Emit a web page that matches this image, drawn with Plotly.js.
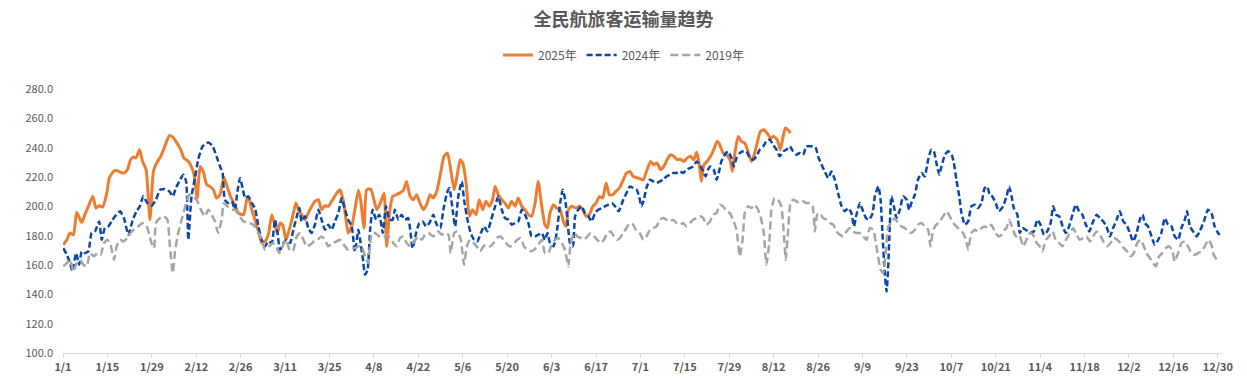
<!DOCTYPE html>
<html><head><meta charset="utf-8">
<script src="https://cdn.plot.ly/plotly-3.0.1.min.js"></script>
<style>html,body{margin:0;padding:0;background:#fff}#chart{width:1247px;height:391px}</style>
</head><body><div id="chart"></div>
<script>
// x positions are day offsets from 1/1 (2024 calendar)
const tickDays = [0,14,28,42,56,70,84,98,112,126,140,154,168,182,196,210,224,238,252,266,280,294,308,322,336,350,364];
const tickLabels = ["1/1","1/15","1/29","2/12","2/26","3/11","3/25","4/8","4/22","5/6","5/20","6/3","6/17","7/1","7/15","7/29","8/12","8/26","9/9","9/23","10/7","10/21","11/4","11/18","12/2","12/16","12/30"];

const days2025 = [0.1,1.2,2.2,3.3,4.3,5.4,5.9,6.9,8.0,9.4,10.4,11.4,12.5,13.8,14.6,15.9,16.9,18.2,19.2,20.3,21.3,22.2,23,24.1,25.1,26.2,27.4,28.5,29.5,30.8,32.1,33.5,34.6,35.8,37.1,38.1,39.2,40.2,41.3,42.3,43.2,44.2,45.3,46.3,47.4,48.4,49.5,50.7,51.8,52.8,54.2,55.3,
56.9,57.9,58.4,59.5,60.5,61.6,62.6,63.7,64.7,65.8,66.6,67.6,68.4,69.2,70.3,71.3,72.4,73.4,74.2,75.2,76.3,77.3,78.4,79.4,80.5,81.5,82.6,83.6,85,86.3,87.3,88.4,89.2,89.9,91,92,93.1,93.8,94.9,95.7,97,98,98.9,100,101.2,102,102.9,103.9,105,106,107.3,108.3,109.4,110.4,111.5,112.5,113.6,114.6,
115.7,116.7,117.8,119.1,120.1,121.2,122.2,123.3,124.1,125.2,126,127,128.1,129.1,130.2,131.2,132.3,133.3,134.4,135.4,136.2,137.2,138.3,139.3,140.4,141.4,142.5,143.5,144.6,145.6,146.7,147.7,148.8,149.8,150.9,151.9,152.7,153.5,154.6,155.6,156.7,157.7,158.6,159.3,160.3,161.7,162.8,163.8,164.9,165.9,167,168,169.1,170.1,171.2,172.2,173.3,174.3,175.4,
176.6,177.6,178.7,179.7,181.3,182.9,183.9,185.2,186.2,187.3,188.3,189.4,190.4,191.5,192.5,193.6,194.6,195.7,196.7,197.8,198.8,199.7,200.5,201.2,202,203,204.1,205.1,206.2,207,208.1,209.1,210.2,211,211.7,212.8,213.8,214.9,215.9,217,217.7,218.8,219.8,220.9,221.9,223,224,225.1,226.1,227,227.7,228.5,229.3];
const vals2025 = [173.8,177.2,181.8,180.6,195.9,190.9,189,194.3,200,206.8,198.8,200.4,199.5,209,219.3,223.8,224.5,223.2,222.7,225,231.8,233.6,232.9,238.6,230.6,225,190.9,223.8,229.5,234.1,240.9,248.2,247.2,243.6,238.6,232.9,231.3,228.4,221.6,205.6,227.2,223.8,214.7,213.6,211.3,205.6,207.9,220,213.1,206.8,200.4,195.4,
194.3,204.5,206.3,197.7,190.9,183,175,176.1,180.6,194.3,188.6,181.8,188.6,187.5,177.2,184,193.2,202.2,197.7,194.3,190.9,195.4,200,203.4,204.5,197.7,200.4,200,204.5,209,211.3,203.4,190.9,181.8,186.3,197.7,210.9,204.5,185.2,211.3,211.8,204.5,197.7,202.2,209,172.7,195.4,206.8,207.9,209,210.9,217,206.8,204.5,207.9,202.2,197.7,201.1,
207.9,205.6,210.2,223.8,234.1,236.3,225,211.3,219.3,231.8,229.5,217,193.2,197.7,194.3,204.5,197.7,203.4,200,204.5,213.6,207.9,204.5,202.2,198.8,203.4,200,205.6,200,197.7,194.3,193.2,202.2,217,200,187.5,185.2,195.4,201.1,198.8,197.7,189.7,186.3,197.7,200,198.8,200,197.7,193.2,194.3,200,202.2,206.8,205.6,215.9,207.9,207.9,210.2,212.5,
218.1,222.7,223.8,220.4,219.3,218.1,223.8,230.6,228.4,229.5,225,227.2,231.8,235.2,234.1,231.8,232.2,230.6,232.9,234.1,231.8,236.8,229.5,217,228.4,230.6,234.1,238.6,244.3,242,236.3,235.2,231.8,223.8,235.2,247.7,244.3,243.2,237.5,230.6,234.1,243.2,251.1,252.2,250,246.6,247.7,245.5,238.6,247.7,253.4,252.2,250];

const days2024 = [0.1,1.2,2.2,3.0,4.1,5.1,5.9,6.9,8.0,9.0,10.1,11.4,12.2,13.2,14.3,15.3,16.4,18.0,19.2,20.6,22.0,23.2,24.3,25.3,26.6,27.9,29.3,30.6,32.1,33.5,34.6,35.6,36.9,37.9,38.8,39.5,40.5,41.6,42.6,44.0,45.8,47.2,48.4,49.5,50.3,51.0,52.1,53.2,54.2,54.9,
55.8,56.6,57.4,58.4,59.5,60.5,61.6,62.6,63.7,64.7,65.8,66.8,67.6,68.4,69.5,70.5,71.6,72.6,73.7,74.5,75.2,76.3,77.3,78.4,79.4,80.5,81.5,82.6,83.6,84.7,85.7,86.8,87.8,88.9,89.9,91,92,93.1,93.8,94.5,95.2,96,96.8,97.6,98.7,99.7,100.8,101.8,102.9,103.9,104.6,105.7,106.7,107.8,108.8,110.2,111.3,112.3,113.4,114.4,115.5,
116.7,117.8,118.9,119.9,121,121.8,122.8,123.6,124.6,125.7,126.4,127.5,128.5,129.6,130.6,131.7,132.7,133.8,134.8,136.2,137.2,138.3,139.3,140.4,141.4,142.5,143.5,144.6,145.6,146.7,147.7,148.8,149.8,150.9,151.9,152.7,153.5,154.6,155.6,156.7,157.5,158.3,159,159.8,160.7,161.4,162.4,163.5,164.5,165.6,166.6,167.7,168.7,169.8,170.8,171.9,173,174,175.1,
176.6,177.6,178.7,179.7,180.8,181.6,182.3,183.1,183.9,185,186,187.1,188.1,189.2,190.2,191.3,192.3,193.4,194.4,195.5,196.5,197.6,198.6,199.7,200.7,201.8,202.6,203.3,204.1,205.1,206,206.8,207.5,208.6,209.6,210.7,211.4,212.3,213.3,214.4,215.4,216.5,217.5,218.6,219.6,220.7,221.7,222.8,223.8,224.9,225.9,227,228,229.1,230.1,231.2,232.2,233.3,234.3,
235.4,236.5,237.3,238,239.1,240.1,241.2,242.2,243.3,244.3,245.4,246.4,247.5,248.5,249.3,250.1,251.2,252,253.1,254.1,255.2,255.9,257,257.7,258.3,259,259.6,260.1,260.6,261.1,261.9,262.7,263.8,264.8,265.9,266.7,267.4,268.5,269.5,270.6,271.6,272.7,273.7,274.5,275.3,276.2,276.9,278,279,280.1,280.8,281.6,282.5,283.2,284.3,285.3,286.3,287.4,288.4,289.5,290.5,291.3,292.1,292.9,294,295,
296.3,297.4,298.2,299,299.7,300.8,301.6,302.4,303.5,304.8,306,307.1,308.1,309.2,310.2,311.3,312.1,313,314,315.1,316.1,317.1,318.2,319.2,320.3,321.3,322.4,323.5,324.5,325.8,326.8,327.9,328.9,330,331,332.1,333.1,334.2,335.2,336.3,337.3,338.4,339.4,340.3,341,342,343.1,344.1,345.2,346.2,347.3,348.3,349.4,350.4,351.5,352.5,353.6,354.3,355.2,356.2,357.3,358.3,359.6,360.9,362,363,364.1,365];
const vals2024 = [171.5,167,161.3,155.6,168.1,160.2,169.3,168.1,169.3,181.8,183,189.7,177.2,185.2,186.3,189.7,193.2,196.6,192,180.6,190.9,196.6,200.4,206.8,202.2,200.4,204.5,211.3,211.8,210.2,206.8,212.5,218.1,221.6,217,177.2,206.8,219.3,231.8,240.9,243.6,240.9,234.1,227.2,222.7,204.5,202.2,203.4,197.7,209,
219.3,212.5,205.6,206.8,202.2,198.8,186.3,177.2,172.7,176.1,175,190.9,181.8,170.4,175,177.2,175,184,193.2,198.8,189.7,193.2,185.2,181.8,187.5,197.7,190.9,184,187.5,184,189.7,195.4,205.6,197.7,190.9,186.3,169.3,184,175,164.7,153.4,156.8,184,197.7,190.9,194.3,181.8,200,190.9,190.9,197.7,190.9,194.3,190.9,192,171.5,181.8,188.6,189.7,186.3,188.6,
194.3,187.5,185.2,197.7,209,212.5,197.7,186.3,206.8,217,204.5,190.9,181.8,177.2,176.1,181.8,186.3,182.9,189.7,200,206.8,197.7,192,190.9,187.5,188.6,189.7,197.7,194.3,188.6,179.5,179.5,180.6,181.8,177.2,181.8,175,172.7,181.8,202.2,211.3,204.5,190.9,175,172.7,193.2,197.7,200,195.4,193.2,189.7,195.4,197.7,198.8,200,201.1,202.2,200,196.6,
204.5,209,213.6,212.5,211.3,206.8,200,204.5,212.5,218.1,217,215.9,217,218.1,220.4,221.6,222.7,222.7,223.8,222.7,225,226.1,227.2,230.6,228.4,223.8,220.4,225,227.2,225,218.1,223.8,230.6,235.2,237.5,232.9,227.2,232.9,236.3,237.5,237.5,232.9,231.8,234.1,238.6,240.9,244.3,245.5,242,238.6,234.1,237.5,238.6,240.9,237.5,235.2,236.3,235.2,240.9,
240.9,240.9,239.7,234.1,228.4,223.8,219.3,223.8,218.1,209,200,196.6,198.8,195.4,186.3,194.3,202.2,197.7,192,190.9,195.4,206.8,213.6,204.5,181.8,154.5,142,159.1,186.3,206.8,200,192,197.7,206.8,204.5,197.7,202.2,207.9,218.1,222.7,220.4,231.8,238.6,237.5,229.5,221.6,227.2,235.2,237.5,235.2,229.5,218.1,206.8,195.4,187.5,189.7,200,201.1,198.8,202.2,212.5,213.6,207.9,206.8,202.2,196.6,
200,206.8,213.6,206.8,198.8,194.3,181.8,185.2,184,181.8,182.9,190.9,187.5,180.6,182.9,188.6,200,194.3,193.2,186.3,181.8,186.3,194.3,201.1,196.6,194.3,187.5,182.9,188.6,194.3,192,189.7,186.3,179.5,185.2,190.9,196.6,189.7,187.5,181.8,176.1,181.8,190.9,194.3,188.6,186.3,179.5,173.8,177.2,181.8,192,187.5,186.3,179.5,177.2,185.2,190.9,196.6,186.3,182.9,179.5,182.9,189.7,197.7,195.4,186.3,181.8,179.5];

const days2019 = [0.1,1.2,2.2,3.3,4.3,5.4,6.4,7.5,8.5,9.8,10.8,11.9,12.9,14,15,16.1,16.9,18,19,20.3,21.3,22.7,23.7,25.1,26.2,27.2,27.9,28.7,29.3,30.6,31.8,32.9,33.7,34.6,35.3,36.3,37.4,38.8,39.8,40.9,42.1,43.7,44.7,45.8,46.8,47.9,48.9,50,50.7,51.8,53.1,54.2,55.3,
56.9,58,59.5,60.5,61.6,62.6,63.7,65,66.1,67.1,68.2,69.2,70.3,71.6,72.6,73.7,74.7,75.8,76.8,77.9,79.1,80.2,81.5,82.6,83.6,85,86.3,87.3,88.9,89.9,91,92,93.1,94.1,95.2,96.2,97.3,98.3,99.7,100.8,102,103.1,104.1,105.2,106.2,107.3,108.3,109.6,111,112,113.1,114.1,115.2,
116.7,118.3,119.4,120.4,121.5,122.2,123.3,124.3,125.4,126.4,127.3,128.3,129.4,130.4,131.5,132.5,133.6,134.6,135.7,136.7,137.8,139,140.1,141.1,142.2,143.2,144.3,145.3,146.4,147.4,148.5,149.5,150.9,151.9,153,154,155.1,156.1,157.2,158.2,159.3,160,161.1,162.1,163.2,164.2,165.3,166.3,167.4,168.4,169.5,170.5,171.6,172.6,173.7,174.7,
175.5,176.6,177.6,178.7,179.7,180.8,181.8,182.9,183.9,185,186,187.1,188.1,189.2,190.2,191.3,192.3,193.4,194.4,195.5,196.5,197.6,198.6,199.7,200.7,201.8,202.8,203.9,205,206,207,208.1,209.1,210.2,211.2,212.3,213.3,214.2,214.9,215.9,217,218,219.1,220.1,220.9,221.7,222.6,223.3,224.3,225.4,226.4,227.2,227.8,228.5,229.3,230.1,231.2,232.2,233.3,234.3,235.4,
236.3,237,237.7,238.6,239.6,240.7,241.7,242.8,243.8,244.9,245.9,247,248,249.1,250.1,251.2,252.2,253.3,254.3,255.4,256.2,256.9,257.7,258.5,259.4,260.1,261.1,262.2,263.2,264.3,265.3,266.4,267.4,268.5,269.5,270.6,271.6,272.7,273.4,274.3,275.3,276.4,277.4,278.5,279.5,280.6,281.6,282.7,283.7,284.6,285.3,286.3,287.4,288.4,289.5,290.5,291.6,292.6,293.7,294.8,295.8,296.8,
297.4,298.2,299.3,300.3,301.4,302.7,303.7,304.8,305.8,306.9,307.9,308.7,309.8,310.8,311.9,312.9,314,315,316.1,317.4,318.4,319.5,320.5,321.6,322.6,323.7,324.7,325.8,326.8,327.9,328.9,330.2,331.2,332.3,333.3,334.4,335.4,336.5,337.5,338.6,339.6,340.7,341.5,342.6,343.6,344.5,345.5,346.5,347.6,348.7,349.7,350.4,351.5,352.5,353.6,354.6,355.7,356.7,357.8,358.8,359.9,361,362,362.7,363.8,364.8];
const vals2019 = [159.1,161.3,163.6,155.6,161.3,163.6,160.2,159.1,168.1,165.9,168.1,167,175,177.2,173.8,163.6,172.7,177.2,176.1,178.4,181.8,185.2,186.3,188.6,187.5,180.6,175,171.5,188.6,192,193.2,190.9,172.7,154.5,169.3,181.8,190.9,202.2,207.9,206.8,204.5,196.6,193.2,197.7,194.3,189.7,181.8,190.9,202.2,200,197.7,197.7,194.3,
189.7,189,188,186.3,181.8,177.2,170.4,172.7,175,172.7,168.1,172.7,177.2,169.3,170.4,179.5,181.8,177.2,172.7,173.8,176.1,177.2,179.5,177.2,172.7,175,176.1,177.2,172.7,170.4,171.5,171.5,172.7,172.7,165.9,161.3,181.8,181.8,179.5,178.4,180.6,178.4,175,172.7,178.4,179.5,175,172.7,177.2,179.5,177.2,180.6,181.8,
179.5,182.9,180.6,181.8,180.6,168.1,181.8,182.9,177.2,160.2,172.7,177.2,175,172.7,169.3,172.7,173.8,172.7,175,178.4,179.5,177.2,173.8,172.7,175,177.2,178.4,172.7,170.4,169.3,170.4,172.7,177.2,168.1,168.1,173.8,177.2,178.4,175,170.4,159.1,175,181.8,179.5,178.4,177.2,179.5,181.8,179.5,177.2,175,177.2,181.8,182.9,179.5,177.2,
178.4,181.8,185.2,188.6,187.5,182.9,181.8,177.2,179.5,184,185.2,186.3,190.9,192,190.9,189.7,190.9,188.6,187.5,188.6,186.3,188.6,190.9,192,193.2,192,187.5,189.7,194.3,195.4,201.1,200,196.6,195.4,190.9,184,165.9,177.2,195.4,200,198.8,201.1,197.7,190.9,181.8,160.2,175,197.7,205.6,204.5,200,181.8,163.6,181.8,202.2,204.5,203.4,202.2,203.4,202.2,202.2,
200,182.9,194.3,195.4,192,190.9,188.6,187.5,182.9,180.6,179.5,182.9,185.2,182.9,181.8,181.8,179.5,177.2,185.2,184,175,165.9,156.8,154.5,170.4,186.3,188.6,192,188.6,186.3,185.2,182.9,181.8,184,187.5,188.6,186.3,184,172.7,184,187.5,189.7,193.2,196.6,193.2,188.6,186.3,184,181.8,177.2,170.4,181.8,184,182.9,185.2,186.3,185.2,187.5,182.9,179.5,180.6,184,
185.2,190.9,185.2,179.5,180.6,172.7,177.2,181.8,180.6,175,172.7,169.3,177.2,179.5,182.9,177.2,175,172.7,177.2,181.8,185.2,180.6,177.2,178.4,179.5,176.1,179.5,182.9,180.6,176.1,172.7,175,178.4,177.2,175,171.5,169.3,165.9,168.1,175,177.2,172.7,168.1,164.7,161.3,159.1,165.9,168.1,171.5,172.7,169.3,162.5,168.1,175,176.1,172.7,168.1,167,168.1,169.3,172.7,177.2,173.8,167,163.6,164];

const font = "'Noto Sans CJK SC', 'Noto Sans', sans-serif";
const traces = [
  {name:'2025年', x:days2025, y:vals2025, type:'scatter', mode:'lines',
   line:{color:'#ED7D31', width:3, shape:'spline', smoothing:0.5}},
  {name:'2024年', x:days2024, y:vals2024, type:'scatter', mode:'lines',
   line:{color:'#0B47A8', width:2.5, dash:'6px,3px', shape:'spline', smoothing:0.5}},
  {name:'2019年', x:days2019, y:vals2019, type:'scatter', mode:'lines',
   line:{color:'#A5A5A5', width:2.5, dash:'8px,4px', shape:'spline', smoothing:0.5}}
];
const layout = {
  width:1247, height:391,
  margin:{l:63, r:26, t:89, b:38},
  paper_bgcolor:'#fff', plot_bgcolor:'#fff',
  font:{family:font, color:'#595959', size:11},
  title:{text:'<b>全民航旅客运输量趋势</b>', font:{family:font, size:18, color:'#595959'},
         x:0.5, xref:'container', xanchor:'center', y:1-20/391, yref:'container', yanchor:'middle'},
  showlegend:true,
  legend:{orientation:'h', x:0.5, xref:'container', xanchor:'center', y:1-55/391, yref:'container', yanchor:'middle',
          font:{family:font, size:12, color:'#595959'}, traceorder:'normal'},
  xaxis:{range:[0,365], tickmode:'array', tickvals:tickDays, ticktext:tickLabels,
         showgrid:false, zeroline:false, showline:true, linecolor:'#D9D9D9', linewidth:1,
         ticks:'outside', ticklen:4, tickcolor:'#D9D9D9',
         tickfont:{family:font, size:11, color:'#595959', weight:'bold'}},
  yaxis:{range:[100,280], dtick:20, tick0:100, tickformat:'.1f', showgrid:false, zeroline:false,
         showline:false, ticks:'', ticklabelstandoff:9,
         tickfont:{family:font, size:11, color:'#595959'}}
};
Plotly.newPlot('chart', traces, layout, {displayModeBar:false, staticPlot:true});
</script></body></html>
